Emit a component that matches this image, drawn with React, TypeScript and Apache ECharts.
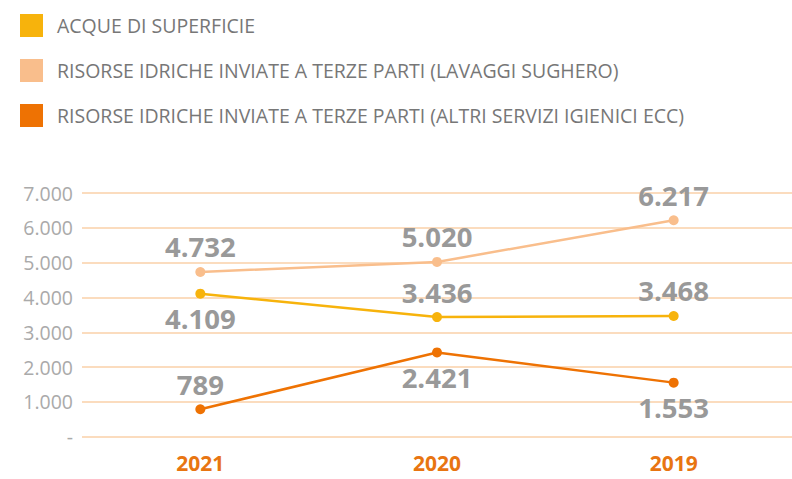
import React, { useEffect, useRef } from "react";
import * as echarts from "echarts";

const categories = ["2021", "2020", "2019"];
const seriesNames = [
  "ACQUE DI SUPERFICIE",
  "RISORSE IDRICHE INVIATE A TERZE PARTI (LAVAGGI SUGHERO)",
  "RISORSE IDRICHE INVIATE A TERZE PARTI (ALTRI SERVIZI IGIENICI ECC)",
];
const acqueSuperficie = [4109, 3436, 3468];
const lavaggiSughero = [4732, 5020, 6217];
const altriServizi = [789, 2421, 1553];
const labelPositions = [
  ["bottom", "top", "top"],
  ["top", "top", "top"],
  ["top", "bottom", "bottom"],
];
const colors = ["#F7B30C", "#F9BE8C", "#EE7203"];

const fmt = (v: number) => {
  if (v === 0) return "-";
  const s = Math.round(v).toString();
  return s.replace(/\B(?=(\d{3})+(?!\d))/g, ".");
};

export default function App() {
  const ref = useRef<HTMLDivElement>(null);
  useEffect(() => {
    if (!ref.current) return;
    const chart = echarts.init(ref.current, undefined, { renderer: "svg" });
    const all = [acqueSuperficie, lavaggiSughero, altriServizi];
    const series = all.map((vals, si) => ({
      name: seriesNames[si],
      type: "line",
      data: vals.map((v, i) => ({
        value: v,
        label: { position: labelPositions[si][i] },
      })),
      symbol: "circle",
      symbolSize: 10,
      lineStyle: { width: 2.5, color: colors[si] },
      itemStyle: { color: colors[si] },
      label: {
        show: true,
        distance: 6,
        formatter: (p: any) => fmt(p.value),
        color: "#999999",
        fontSize: 27.5,
        fontWeight: "bold",
        fontFamily: "Open Sans",
      },
      z: 3 - si,
    }));
    chart.setOption({
      animation: false,
      color: colors,
      legend: {
        orient: "vertical",
        left: 20,
        top: 14,
        padding: 0,
        itemWidth: 23,
        itemHeight: 23,
        itemGap: 22,
        icon: "rect",
        data: seriesNames,
        selectedMode: false,
        textStyle: {
          color: "#777777",
          fontSize: 19.5,
          fontFamily: "Open Sans",
          padding: [0, 0, 0, 9],
        },
      },
      grid: { left: 82, top: 193, width: 732, height: 243.7 },
      xAxis: {
        type: "category",
        data: categories,
        boundaryGap: true,
        axisLine: { show: false },
        axisTick: { show: false },
        axisLabel: {
          color: "#E87511",
          fontSize: 21,
          fontWeight: "bold",
          fontFamily: "Open Sans",
          margin: 16,
        },
      },
      yAxis: {
        type: "value",
        min: 0,
        max: 7000,
        interval: 1000,
        axisLine: { show: false },
        axisTick: { show: false },
        splitLine: { lineStyle: { color: "#FAD0A8", width: 1.5 } },
        axisLabel: {
          color: "#AAAAAA",
          fontSize: 19.5,
          fontFamily: "Open Sans",
          margin: 9,
          formatter: (v: number) => fmt(v),
        },
      },
      series,
    });
    return () => chart.dispose();
  }, []);
  return (
    <div
      ref={ref}
      style={{ position: "fixed", left: 0, top: 0, width: 792, height: 479, background: "#fff" }}
    />
  );
}
